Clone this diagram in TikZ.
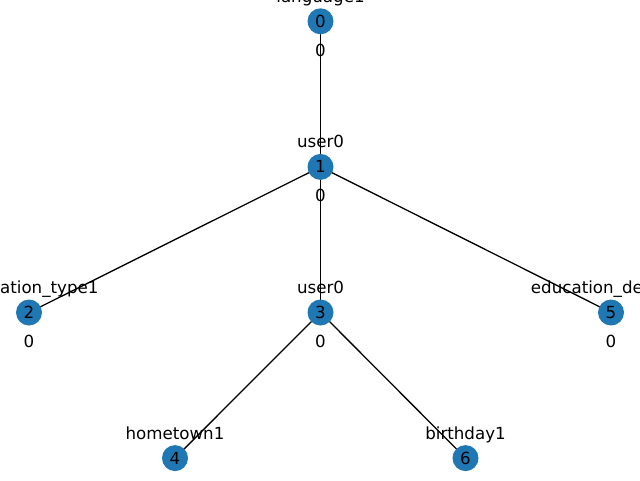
\documentclass[tikz,border=0pt]{standalone}
\usepackage{fontspec}
\setmainfont{DejaVu Sans}
\begin{document}
\begin{tikzpicture}[x=1pt,y=-1pt,
  vertex/.style={circle,fill={rgb,255:red,31;green,119;blue,180},minimum size=26pt,inner sep=0pt},
  txt/.style={inner sep=0pt,anchor=base,font=\fontsize{16.67}{20}\selectfont},
  link/.style={line width=1.3pt,black}]
\useasboundingbox (0,0) rectangle (640,480);
\clip (0,0) rectangle (640,480);
% vertex positions
\coordinate (p0) at (320.5,21.3);
\coordinate (p1) at (320.5,166.9);
\coordinate (p2) at (29,312.5);
\coordinate (p3) at (320.5,312.5);
\coordinate (p5) at (611,312.5);
\coordinate (p4) at (175,458.1);
\coordinate (p6) at (465.5,458.1);
% edges, drawn beneath the vertices
\draw[link] (p0) -- (p1);
\draw[link] (p1) -- (p2);
\draw[link] (p1) -- (p3);
\draw[link] (p1) -- (p5);
\draw[link] (p3) -- (p4);
\draw[link] (p3) -- (p6);
% vertices
\foreach \i in {0,...,6} {
  \node[vertex] (v\i) at (p\i) {};
  \node[txt] (n\i) at ([yshift=-6pt]p\i) {\i};
}
% names above the vertices
\node[txt] (a0) at ([yshift=19pt]p0) {language1};
\node[txt] (a1) at ([yshift=19pt]p1) {user0};
\node[txt] (a2) at ([yshift=19pt]p2) {education\_type1};
\node[txt] (a3) at ([yshift=19pt]p3) {user0};
\node[txt] (a5) at ([yshift=19pt]p5) {education\_degree1};
\node[txt] (a4) at ([yshift=19pt]p4) {hometown1};
\node[txt] (a6) at ([yshift=19pt]p6) {birthday1};
% values below the vertices
\node[txt] (b0) at ([yshift=-35pt]p0) {0};
\node[txt] (b1) at ([yshift=-35pt]p1) {0};
\node[txt] (b2) at ([yshift=-35pt]p2) {0};
\node[txt] (b3) at ([yshift=-35pt]p3) {0};
\node[txt] (b5) at ([yshift=-35pt]p5) {0};
\end{tikzpicture}
\end{document}
